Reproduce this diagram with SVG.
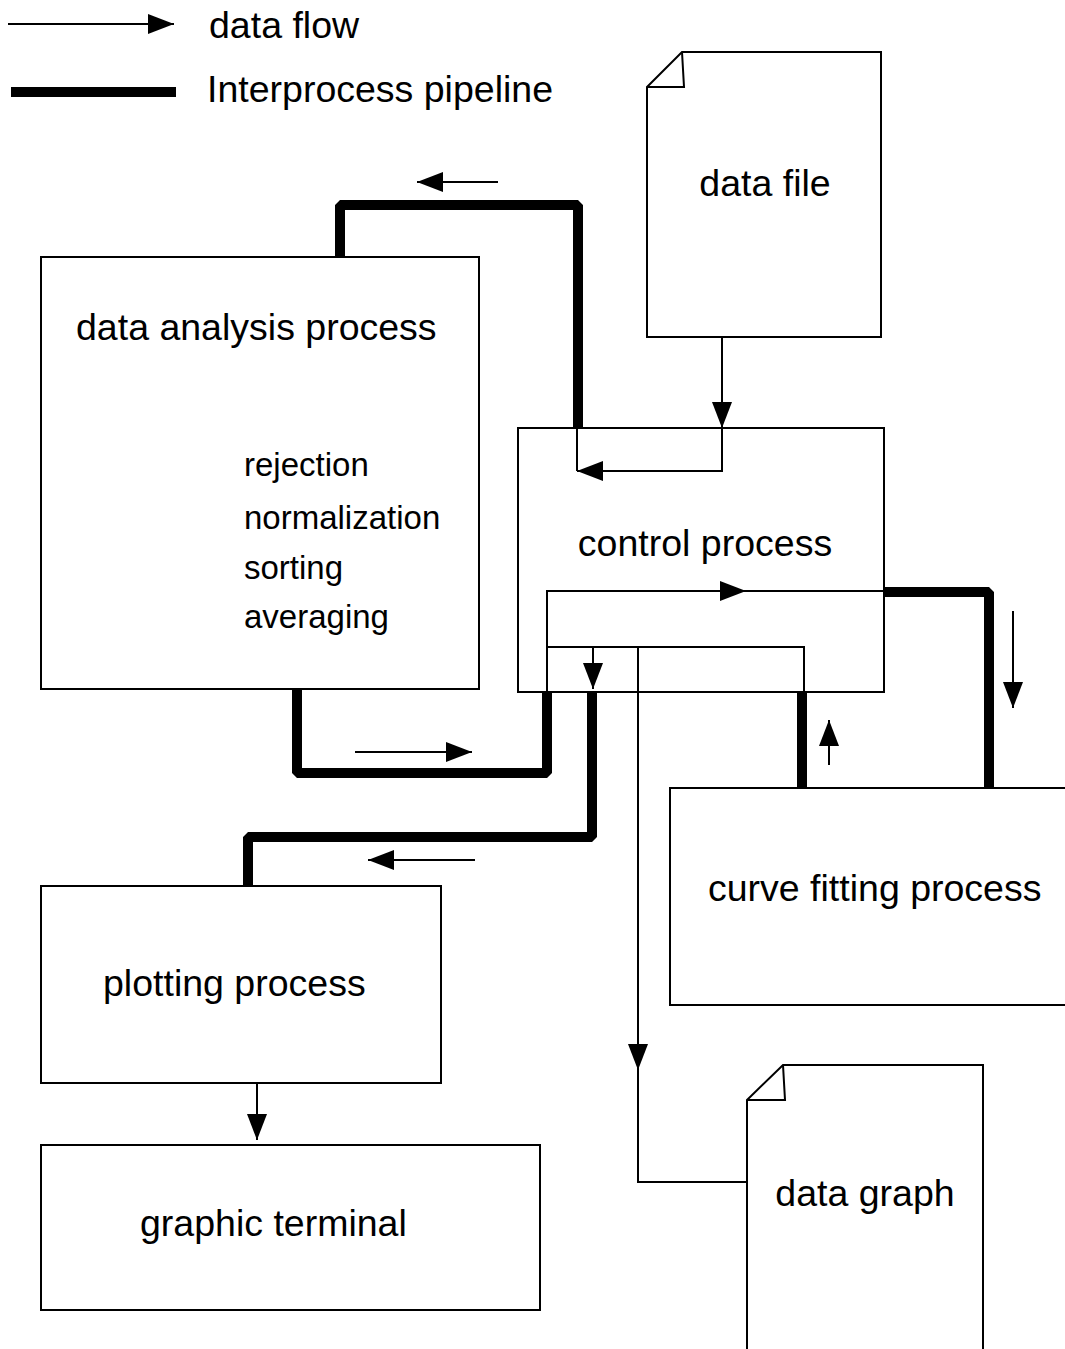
<svg xmlns="http://www.w3.org/2000/svg" width="1065" height="1349" viewBox="0 0 1065 1349">
<style>
.box{fill:#fff;stroke:#000;stroke-width:2}
.thin{fill:none;stroke:#000;stroke-width:2}
.pipe{fill:none;stroke:#000;stroke-width:10;stroke-linejoin:bevel}
.t{font-family:"Liberation Sans",Arial,sans-serif;font-size:37.5px;fill:#000}
.s{font-family:"Liberation Sans",Arial,sans-serif;font-size:33px;fill:#000}
</style>
<defs>
<marker id="ah" viewBox="0 0 26 20" refX="26" refY="10" markerWidth="26" markerHeight="20" markerUnits="userSpaceOnUse" orient="auto">
<path d="M0,0 L26,10 L0,20 Z" fill="#000"/>
</marker>
</defs>
<rect width="1065" height="1349" fill="#fff"/>
<g id="legend">
<line x1="8" y1="24" x2="174" y2="24" class="thin" marker-end="url(#ah)"/>
<text x="209" y="38" class="t">data flow</text>
<line x1="11" y1="92" x2="176" y2="92" stroke="#000" stroke-width="10"/>
<text x="207" y="102" class="t">Interprocess pipeline</text>
</g>
<g id="connectors">
<polyline class="pipe" points="340,257 340,205 578,205 578,428"/>
<polyline class="pipe" points="297,689 297,773 547,773 547,692"/>
<polyline class="pipe" points="592,692 592,837 248,837 248,886"/>
<polyline class="pipe" points="884,592 989,592 989,790"/>
<line class="pipe" x1="802" y1="692" x2="802" y2="788"/>
<line class="thin" x1="498" y1="182" x2="417" y2="182" marker-end="url(#ah)"/>
<line class="thin" x1="355" y1="752" x2="472" y2="752" marker-end="url(#ah)"/>
<line class="thin" x1="475" y1="860" x2="368" y2="860" marker-end="url(#ah)"/>
<line class="thin" x1="829" y1="765" x2="829" y2="720" marker-end="url(#ah)"/>
<line class="thin" x1="1013" y1="611" x2="1013" y2="708" marker-end="url(#ah)"/>
<line class="thin" x1="722" y1="337" x2="722" y2="428" marker-end="url(#ah)"/>
<line class="thin" x1="257" y1="1083" x2="257" y2="1140" marker-end="url(#ah)"/>
</g>
<g id="data-file">
<path class="box" d="M647,87 L682,52 L881,52 L881,337 L647,337 Z"/>
<path class="thin" d="M682,52 L684,87 L647,87"/>
<text x="765" y="196" class="t" text-anchor="middle">data file</text>
</g>
<g id="data-analysis">
<rect class="box" x="41" y="257" width="438" height="432"/>
<text x="76" y="340" class="t">data analysis process</text>
<text x="244" y="476" class="s">rejection</text>
<text x="244" y="529" class="s">normalization</text>
<text x="244" y="579" class="s">sorting</text>
<text x="244" y="628" class="s">averaging</text>
</g>
<g id="control">
<rect class="box" x="518" y="428" width="366" height="264"/>
<text x="705" y="556" class="t" text-anchor="middle">control process</text>
</g>
<g id="inner-connectors">
<polyline class="thin" points="577,428 577,471"/>
<polyline class="thin" points="722,428 722,471 577,471" marker-end="url(#ah)"/>
<polyline class="thin" points="547,692 547,591 884,591"/>
<line class="thin" x1="700" y1="591" x2="746" y2="591" marker-end="url(#ah)"/>
<polyline class="thin" points="547,647 804,647 804,692"/>
<line class="thin" x1="593" y1="647" x2="593" y2="689" marker-end="url(#ah)"/>
<polyline class="thin" points="638,647 638,1182 749,1182"/>
<line class="thin" x1="638" y1="1000" x2="638" y2="1070" marker-end="url(#ah)"/>
</g>
<g id="curve-fitting">
<rect class="box" x="670" y="788" width="420" height="217"/>
<text x="708" y="901" class="t">curve fitting process</text>
</g>
<g id="plotting">
<rect class="box" x="41" y="886" width="400" height="197"/>
<text x="103" y="996" class="t">plotting process</text>
</g>
<g id="graphic-terminal">
<rect class="box" x="41" y="1145" width="499" height="165"/>
<text x="140" y="1236" class="t">graphic terminal</text>
</g>
<g id="data-graph">
<path class="box" d="M747,1100 L783,1065 L983,1065 L983,1360 L747,1360 Z"/>
<path class="thin" d="M783,1065 L785,1100 L747,1100"/>
<text x="865" y="1206" class="t" text-anchor="middle">data graph</text>
</g>
</svg>
